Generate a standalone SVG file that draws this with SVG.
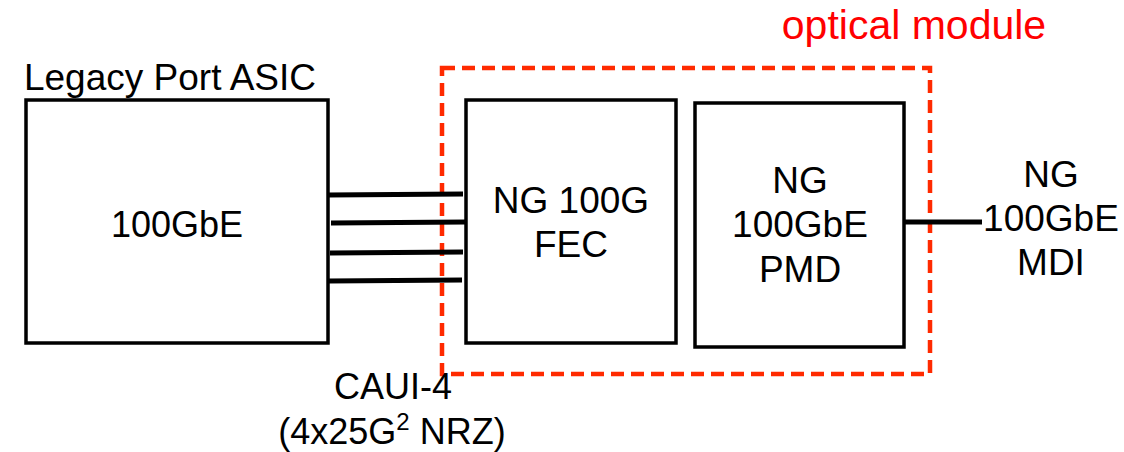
<svg xmlns="http://www.w3.org/2000/svg" width="1124" height="452" viewBox="0 0 1124 452">
<style>
.box{fill:none;stroke:#000;stroke-width:3.5}
.t{font-family:"Liberation Sans",Arial,sans-serif;font-size:36px;fill:#000;text-anchor:middle}
.wire{stroke:#000;stroke-width:5;fill:none}
.mod{fill:none;stroke:#ff2a00;stroke-width:4.5;stroke-dasharray:13 7}
</style>
<rect width="1124" height="452" fill="#fff"/>
<g id="optical-module">
<rect class="mod" x="442" y="68" width="488" height="306"/>
<text class="t" x="914" y="39" style="fill:#ff0000;font-size:41px">optical module</text>
</g>
<g id="asic">
<text class="t" x="170" y="90" style="font-size:37px">Legacy Port ASIC</text>
<rect class="box" x="26" y="100" width="302" height="243"/>
<text class="t" x="177" y="237">100GbE</text>
</g>
<g id="fec">
<rect class="box" x="466" y="100" width="210" height="243"/>
<text class="t" x="571" y="213" style="font-size:37px">NG 100G</text>
<text class="t" x="571" y="257" style="font-size:37px">FEC</text>
</g>
<g id="pmd">
<rect class="box" x="695" y="103" width="209" height="244"/>
<text class="t" x="800" y="193" style="font-size:37px">NG</text>
<text class="t" x="800" y="237" style="font-size:37px">100GbE</text>
<text class="t" x="800" y="282" style="font-size:37px">PMD</text>
</g>
<g id="mdi">
<text class="t" x="1051" y="187" style="font-size:37px">NG</text>
<text class="t" x="1051" y="231" style="font-size:37px">100GbE</text>
<text class="t" x="1051" y="275" style="font-size:37px">MDI</text>
</g>
<g id="connectors">
<line class="wire" x1="328" y1="195" x2="463" y2="194"/>
<line class="wire" x1="331" y1="223" x2="466" y2="222"/>
<line class="wire" x1="330" y1="253" x2="463" y2="252"/>
<line class="wire" x1="329" y1="281" x2="462" y2="280"/>
<line class="wire" x1="904" y1="222" x2="982" y2="222"/>
</g>
<g id="caui-label">
<text class="t" x="393" y="399">CAUI-4</text>
<text class="t" x="392" y="444">(4x25G<tspan dy="-14" font-size="24">2</tspan><tspan dy="14"> NRZ)</tspan></text>
</g>
</svg>
